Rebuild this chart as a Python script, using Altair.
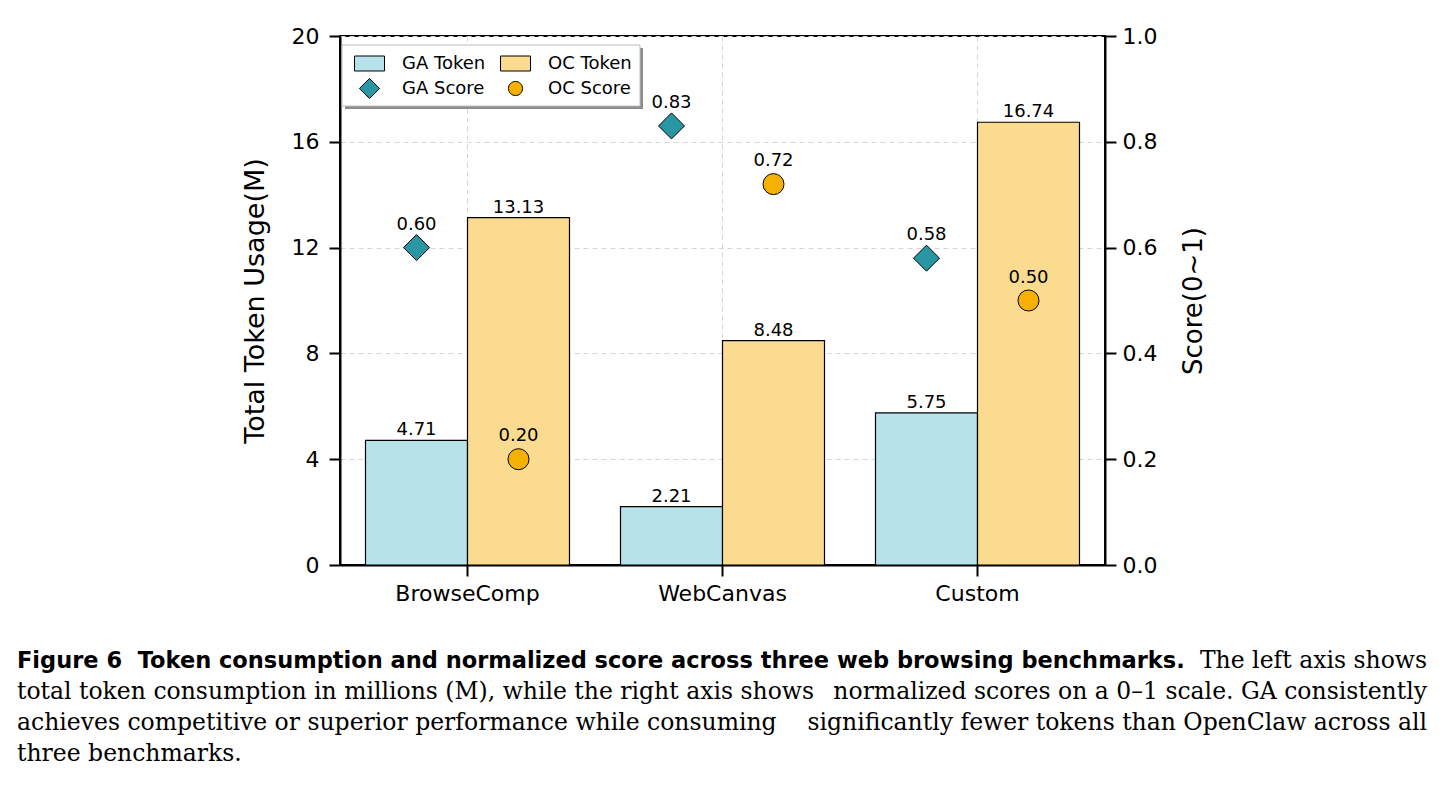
import altair as alt
import pandas as pd

# ---- data -------------------------------------------------------------
categories = ["BrowseComp", "WebCanvas", "Custom"]
ga_tokens = [4.71, 2.21, 5.75]
oc_tokens = [13.13, 8.48, 16.74]
ga_scores = [0.60, 0.83, 0.58]
oc_scores = [0.20, 0.72, 0.50]

# legend entries are laid out column by column
series_names = ["GA Token", "GA Score", "OC Token", "OC Score"]
series_colors = ["#b8e2ea", "#2a96a3", "#fbdb8f", "#f5b000"]
RECT = "M-1,-0.5L1,-0.5L1,0.5L-1,0.5Z"
DIAMOND = "M-0.67,0L0,-0.67L0.67,0L0,0.67Z"
CIRCLE = "M-0.47,0A0.47,0.47,0,1,0,0.47,0A0.47,0.47,0,1,0,-0.47,0Z"
legend_shapes = [RECT, DIAMOND, RECT, CIRCLE]

caption_bold = "Figure 6\u00a0\u00a0Token consumption and normalized score across three web browsing benchmarks."
caption_tail = "The left axis shows"
caption_rows = [
    ("total token consumption in millions (M), while the right axis shows",
     "normalized scores on a 0\u20131 scale. GA consistently"),
    ("achieves competitive or superior performance while consuming",
     "significantly fewer tokens than OpenClaw across all"),
]
caption_last = "three benchmarks."

tokens = pd.DataFrame({
    "category": categories * 2,
    "model": ["GA"] * 3 + ["OC"] * 3,
    "series": ["GA Token"] * 3 + ["OC Token"] * 3,
    "value": ga_tokens + oc_tokens,
})
ga_pts = pd.DataFrame({"category": categories, "model": "GA", "series": "GA Score", "score": ga_scores})
oc_pts = pd.DataFrame({"category": categories, "model": "OC", "series": "OC Score", "score": oc_scores})
legend_df = pd.DataFrame({"series": series_names})
one_row = pd.DataFrame({"k": [0]})

SANS = "DejaVu Sans"
SERIF = "DejaVu Serif"

# ---- shared encodings -------------------------------------------------
x_enc = alt.X(
    "category:N", sort=categories,
    scale=alt.Scale(paddingInner=0.2, paddingOuter=0.1),
    axis=alt.Axis(title=None, labelAngle=0, labelFontSize=22, labelPadding=7,
                  grid=True, gridDash=[5, 4], gridColor="#d6d6d6", gridWidth=1,
                  bandPosition=0.5),
)
xoff_enc = alt.XOffset("model:N", scale=alt.Scale(domain=["GA", "OC"], paddingInner=0, paddingOuter=0))

legend_spec = alt.Legend(
    title=None, orient="none", legendX=14, legendY=12, columns=2,
    symbolSize=900, symbolStrokeColor="black", symbolStrokeWidth=1,
    labelFont=SANS, labelFontSize=18, labelColor="black", labelOffset=17,
    columnPadding=12, rowPadding=0, padding=0,
)
color_enc = alt.Color("series:N", scale=alt.Scale(domain=series_names, range=series_colors), legend=legend_spec)

y_tok = alt.Y(
    "value:Q", scale=alt.Scale(domain=[0, 20], nice=False),
    axis=alt.Axis(values=[0, 4, 8, 12, 16, 20], title="Total Token Usage(M)", titlePadding=22,
                  titleFontSize=27, grid=True, gridDash=[5, 4], gridColor="#d6d6d6", gridWidth=1,
                  labelPadding=10),
)
y_score = alt.Y(
    "score:Q", scale=alt.Scale(domain=[0, 1], nice=False),
    axis=alt.Axis(orient="right", values=[0, 0.2, 0.4, 0.6, 0.8, 1.0], format=".1f",
                  title="Score(0~1)", titleAngle=270, titleBaseline="top", titlePadding=24,
                  titleFontSize=26, grid=False, labelPadding=6),
)

# ---- token bars (left axis) -------------------------------------------
bars = alt.Chart(tokens).mark_bar(stroke="black", strokeWidth=1.2).encode(
    x=x_enc, xOffset=xoff_enc, y=y_tok, color=color_enc,
)
bar_labels = alt.Chart(tokens).mark_text(
    baseline="alphabetic", dy=-5, font=SANS, fontSize=18, color="black"
).encode(x=x_enc, xOffset=xoff_enc, y=y_tok, text=alt.Text("value:Q", format=".2f"))

# invisible layer that supplies the legend glyph shapes
legend_layer = alt.Chart(legend_df).mark_point(opacity=0, filled=True).encode(
    color=color_enc,
    shape=alt.Shape("series:N", scale=alt.Scale(domain=series_names, range=legend_shapes), legend=legend_spec),
)

# ---- score markers (right axis) ---------------------------------------
ga_marks = alt.Chart(ga_pts).mark_point(
    shape="diamond", size=676, filled=True, opacity=1, stroke="black", strokeWidth=1
).encode(x=x_enc, xOffset=xoff_enc, y=y_score, color=color_enc)
oc_marks = alt.Chart(oc_pts).mark_point(
    shape="circle", size=441, filled=True, opacity=1, stroke="black", strokeWidth=1
).encode(x=x_enc, xOffset=xoff_enc, y=y_score, color=color_enc)
ga_labels = alt.Chart(ga_pts).mark_text(
    baseline="alphabetic", dy=-18, font=SANS, fontSize=18, color="black"
).encode(x=x_enc, xOffset=xoff_enc, y=y_score, text=alt.Text("score:Q", format=".2f"))
oc_labels = alt.Chart(oc_pts).mark_text(
    baseline="alphabetic", dy=-18, font=SANS, fontSize=18, color="black"
).encode(x=x_enc, xOffset=xoff_enc, y=y_score, text=alt.Text("score:Q", format=".2f"))

# ---- legend frame with drop shadow ------------------------------------
legend_shadow = alt.Chart(one_row).mark_rect(color="#8c8c8c").encode(
    x=alt.value(5), x2=alt.value(303), y=alt.value(12), y2=alt.value(73)
)
legend_box = alt.Chart(one_row).mark_rect(fill="white", stroke="#bdbdbd", strokeWidth=1).encode(
    x=alt.value(2), x2=alt.value(300), y=alt.value(9), y2=alt.value(70)
)

# ---- caption ----------------------------------------------------------
def caption_text(text, x, y, font, size, weight="normal", align="left"):
    return alt.Chart(one_row).mark_text(
        align=align, baseline="alphabetic", font=font, fontSize=size, fontWeight=weight, color="black"
    ).encode(x=alt.value(x), y=alt.value(y), text=alt.value(text))

LEFT_X, RIGHT_X = -323, 1087
SERIF_SIZE = 23.5
captions = [
    caption_text(caption_bold, LEFT_X, 632, SANS, 22.5, "bold"),
    caption_text(caption_tail, RIGHT_X, 632, SERIF, SERIF_SIZE, align="right"),
]
for i, (head, tail) in enumerate(caption_rows):
    yy = 663 + 31 * i
    captions.append(caption_text(head, LEFT_X, yy, SERIF, SERIF_SIZE))
    captions.append(caption_text(tail, RIGHT_X, yy, SERIF, SERIF_SIZE, align="right"))
captions.append(caption_text(caption_last, LEFT_X, 725, SERIF, SERIF_SIZE))

left = alt.layer(bars, bar_labels, legend_layer)
right = alt.layer(ga_marks, oc_marks, ga_labels, oc_labels)
deco = alt.layer(legend_shadow, legend_box, *captions)

chart = alt.layer(left, right, deco).resolve_scale(y="independent").properties(
    width=765, height=529,
    autosize=alt.AutoSizeParams(type="none"),
    padding={"left": 340, "top": 36, "right": 338, "bottom": 222},
    background="white",
).configure_view(
    stroke="black", strokeWidth=2
).configure_axis(
    domainColor="black", domainWidth=2, tickColor="black", tickWidth=2, tickSize=11,
    labelFont=SANS, labelFontSize=22, labelColor="black",
    titleFont=SANS, titleFontSize=25, titleFontWeight="normal", titleColor="black",
)

chart.save("out.html", embed_options={"renderer": "svg", "actions": False})
